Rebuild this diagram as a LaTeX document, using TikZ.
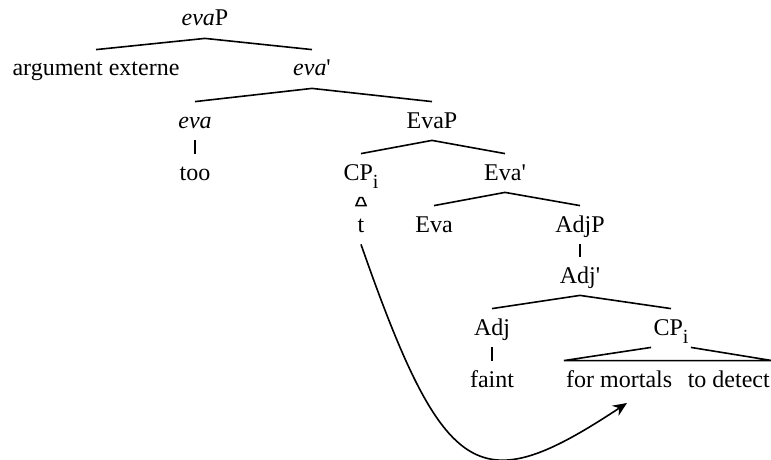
\documentclass[tikz,border=0pt]{standalone}
\usepackage{fontspec}
\setmainfont{Liberation Serif}
\usepackage{tikz}
\usetikzlibrary{positioning,arrows.meta,calc}
\tikzset{
  cat/.style={font=\fontsize{12}{14}\selectfont,text height=11pt,text depth=4pt,
    inner xsep=1pt,inner ysep=2pt,anchor=base},
  branch/.style={line width=0.8pt},
  movearrow/.style={-{Stealth[length=7pt,width=6pt]},line width=0.8pt},
}
\newcommand{\cpi}{CP\raisebox{-4pt}{\fontsize{10}{11}\selectfont i}}
\newcommand{\xbar}{\textquotesingle}

\begin{document}
\begin{tikzpicture}[x=0.5pt,y=-0.5pt]
  \useasboundingbox (0,0) rectangle (771,460);
  % categories, row by row (baselines)
  \node[cat] (ep)    at (205,26)  {\textit{eva}P};
  \node[cat] (ext)   at (96,76)   {argument externe};
  \node[cat] (ebar)  at (312,76)  {\textit{eva}\xbar};
  \node[cat] (ehead) at (195,128) {\textit{eva}};
  \node[cat] (EP)    at (432,128) {EvaP};
  \node[cat] (too)   at (195,180) {too};
  \node[cat] (cpa)   at (361,180) {\cpi};
  \node[cat] (Ebar)  at (505,180) {Eva\xbar};
  \node[cat] (tr)    at (361,232) {t};
  \node[cat] (Ehead) at (434,232) {Eva};
  \node[cat] (ap)    at (580,232) {AdjP};
  \node[cat] (abar)  at (580,283) {Adj\xbar};
  \node[cat] (ahead) at (492,335) {Adj};
  \node[cat] (cpb)   at (671,335) {\cpi};
  \node[cat] (faint) at (492,387) {faint};
  \node[cat] (fmtd)  at (668,387) {for mortals\hspace{0.65em}to detect};
  % branches
  \draw[branch] (ext.north) -- (ep.south) -- (ebar.north);
  \draw[branch] (ehead.north) -- (ebar.south) -- (EP.north);
  \draw[branch] (ehead.south) -- (too.north);
  \draw[branch] (cpa.north) -- (EP.south) -- (Ebar.north);
  \draw[branch] (Ehead.north) -- (Ebar.south) -- (ap.north);
  \draw[branch] (ap.south) -- (abar.north);
  \draw[branch] (ahead.north) -- (abar.south) -- (cpb.north);
  \draw[branch] (ahead.south) -- (faint.north);
  \draw[branch] (cpb.south west) -- (fmtd.north west) -- (fmtd.north east) -- (cpb.south east);
  % small triangle over the trace
  \draw[branch] (tr.north) ++(-5,0) -- ++(3.5,-8) -- ++(3,0) -- ++(3.5,8) -- cycle;
  % movement of the trace
  \coordinate (land) at (627,403);
  \draw[movearrow] (tr.south) .. controls (445,485) and (480,500) .. (land);
\end{tikzpicture}
\end{document}
